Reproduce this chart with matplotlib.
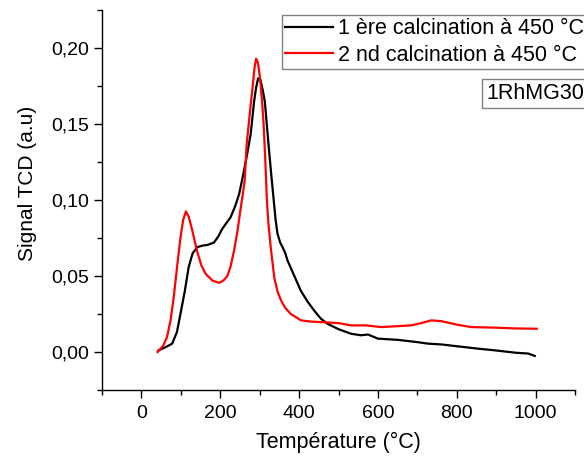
import numpy as np
import matplotlib
matplotlib.use("Agg")
import matplotlib.pyplot as plt
from matplotlib.ticker import MultipleLocator, FuncFormatter

plt.rcParams['font.family'] = ['Liberation Sans', 'DejaVu Sans']

# 1 ere calcination (black)
t1 = [43, 60, 78, 90, 99, 110, 120, 130, 142, 155, 167, 184, 195, 205, 216, 226, 238, 248,
      255, 266, 277, 286, 291, 296, 302, 308, 313, 318, 324, 330, 335, 340, 345, 352, 358,
      365, 371, 388, 405, 422, 439, 455, 472, 500, 532, 557, 575, 600, 650, 700, 727, 760,
      800, 854, 900, 950, 981, 998]
s1 = [0.001, 0.003, 0.0055, 0.013, 0.025, 0.040, 0.056, 0.065, 0.069, 0.070, 0.0704, 0.072,
      0.076, 0.081, 0.085, 0.0885, 0.096, 0.104, 0.1126, 0.127, 0.143, 0.165, 0.174, 0.180,
      0.179, 0.172, 0.165, 0.150, 0.132, 0.115, 0.1017, 0.088, 0.078, 0.072, 0.069, 0.065,
      0.060, 0.050, 0.040, 0.033, 0.027, 0.022, 0.0186, 0.015, 0.012, 0.011, 0.0115, 0.0088,
      0.008, 0.0065, 0.0055, 0.005, 0.0038, 0.0022, 0.001, -0.0005, -0.001, -0.0026]

# 2 nd calcination (red)
t2 = [41, 55, 65, 74, 82, 90, 99, 106, 113, 120, 129, 136, 142, 152, 163, 180, 197, 208,
      218, 226, 235, 244, 252, 256, 262, 267, 275, 282, 287, 291, 296, 301, 306, 310, 314,
      318, 322, 328, 337, 345, 354, 365, 379, 405, 430, 455, 500, 532, 570, 608, 650, 684,
      710, 735, 761, 800, 837, 900, 950, 1003]
s2 = [0.0, 0.004, 0.0098, 0.021, 0.036, 0.055, 0.075, 0.087, 0.0925, 0.089, 0.080, 0.072,
      0.0656, 0.057, 0.0514, 0.047, 0.0455, 0.047, 0.050, 0.056, 0.0667, 0.080, 0.095,
      0.1017, 0.1126, 0.1367, 0.157, 0.174, 0.187, 0.193, 0.190, 0.180, 0.165, 0.150, 0.128,
      0.1017, 0.085, 0.069, 0.049, 0.040, 0.034, 0.029, 0.025, 0.0208, 0.020, 0.0197, 0.019,
      0.0175, 0.0175, 0.0164, 0.017, 0.0175, 0.019, 0.0208, 0.0203, 0.018, 0.0164, 0.016,
      0.0155, 0.0153]

labels = ['1 ère calcination à 450 °C', '2 nd calcination à 450 °C']

fig = plt.figure(figsize=(5.84, 4.59), dpi=100)
ax = fig.add_axes([102/584, 69/459, 473/584, 380/459])

ax.plot(t1, s1, color='black', lw=1.6, label=labels[0])
ax.plot(t2, s2, color='red', lw=1.6, label=labels[1])

ax.set_xlim(-100, 1100)
ax.set_ylim(-0.025, 0.225)
ax.xaxis.set_major_locator(MultipleLocator(200))
ax.xaxis.set_minor_locator(MultipleLocator(100))
ax.yaxis.set_major_locator(MultipleLocator(0.05))
ax.yaxis.set_minor_locator(MultipleLocator(0.025))
ax.yaxis.set_major_formatter(FuncFormatter(lambda v, p: f"{v:.2f}".replace('.', ',')))
ax.spines['top'].set_visible(False)
ax.spines['right'].set_visible(False)
for sp in ['left', 'bottom']:
    ax.spines[sp].set_linewidth(1.0)
ax.tick_params(which='major', direction='out', length=6, width=1, labelsize=14)
ax.tick_params(axis='x', which='major', pad=5)
ax.tick_params(axis='y', which='major', pad=3)
ax.tick_params(which='minor', direction='out', length=3.5, width=1)

ax.set_xlabel('Température (°C)', fontsize=15.5, labelpad=7)
ax.set_ylabel('Signal TCD (a.u)', fontsize=15)
ax.yaxis.set_label_coords(-0.137, 0.543)

leg = ax.legend(loc='upper left', bbox_to_anchor=(0.3805, 0.987), fontsize=15.5,
                frameon=True, fancybox=False, edgecolor='#808080', framealpha=1,
                handlelength=2.2, handletextpad=0.25, borderpad=0.15,
                labelspacing=0.25, borderaxespad=0)
leg.get_frame().set_linewidth(1.0)

ax.text(0.812, 0.78, '1RhMG30', transform=ax.transAxes, fontsize=15.5,
        ha='left', va='center',
        bbox=dict(boxstyle='square,pad=0.2', fc='white', ec='#808080', lw=1.0))

fig.savefig('out.png', dpi=100)
